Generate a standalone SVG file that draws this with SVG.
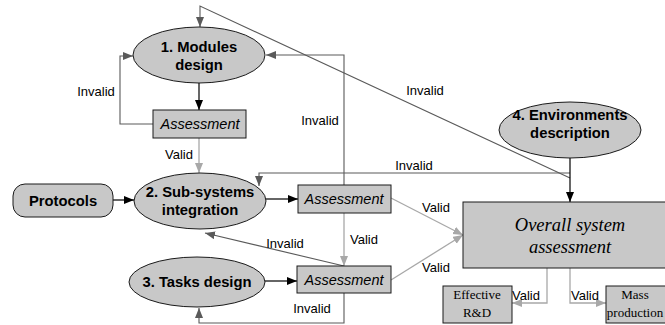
<svg xmlns="http://www.w3.org/2000/svg" width="665" height="325" viewBox="0 0 665 325">
<style>
.node{fill:#c8c8c8;stroke:#1a1a1a;stroke-width:1}
.nt{font-family:"Liberation Sans",Arial,sans-serif;font-weight:bold;font-size:14.8px;text-anchor:middle;fill:#000}
.at{font-family:"Liberation Sans",Arial,sans-serif;font-style:italic;font-size:14.5px;text-anchor:middle;fill:#000}
.st{font-family:"Liberation Serif","Times New Roman",serif;text-anchor:middle;fill:#000}
.lb{font-family:"Liberation Sans",Arial,sans-serif;font-size:13px;text-anchor:middle;fill:#000}
.k{fill:none;stroke:#000;stroke-width:1.2}
.d{fill:none;stroke:#5a5a5a;stroke-width:1.1}
.v{fill:none;stroke:#a8a8a8;stroke-width:1.3}
</style>
<defs>
<marker id="mk" markerUnits="userSpaceOnUse" markerWidth="12" markerHeight="10" refX="10" refY="4" orient="auto"><path d="M0,0 L10,4 L0,8 Z" fill="#000"/></marker>
<marker id="md" markerUnits="userSpaceOnUse" markerWidth="12" markerHeight="10" refX="10" refY="4" orient="auto"><path d="M0,0 L10,4 L0,8 Z" fill="#5a5a5a"/></marker>
<marker id="mv" markerUnits="userSpaceOnUse" markerWidth="12" markerHeight="10" refX="10" refY="4" orient="auto"><path d="M0,0 L10,4 L0,8 Z" fill="#a8a8a8"/></marker>
</defs>

<g id="connectors">
<path class="d" d="M570,178 L200,6 L200,27" marker-end="url(#md)"/>
<path class="d" d="M344,185 L344,55 L266,55" marker-end="url(#md)"/>
<path class="k" d="M199,83 L199,110" marker-end="url(#mk)"/>
<path class="d" d="M153,124 L120,124 L120,56 L133,56" marker-end="url(#md)"/>
<path class="v" d="M199,138 L199,173" marker-end="url(#mv)"/>
<path class="k" d="M113,200 L134,200" marker-end="url(#mk)"/>
<path class="k" d="M266,199 L298,199" marker-end="url(#mk)"/>
<path class="d" d="M570,173 L259,173 L259,186" marker-end="url(#md)"/>
<path class="k" d="M570,158 L570,202" marker-end="url(#mk)"/>
<path class="v" d="M391,198 L463,235" marker-end="url(#mv)"/>
<path class="v" d="M391,280 L463,235" marker-end="url(#mv)"/>
<path class="v" d="M344,213 L344,266" marker-end="url(#mv)"/>
<path class="d" d="M344,266 L205,233" marker-end="url(#md)"/>
<path class="d" d="M344,293 L344,323 L199,323 L199,308" marker-end="url(#md)"/>
<path class="k" d="M265,281 L297,281" marker-end="url(#mk)"/>
<path class="v" d="M547,268 L547,303 L512,303" marker-end="url(#mv)"/>
<path class="v" d="M570,268 L570,303 L606,303" marker-end="url(#mv)"/>
<text class="lb" x="96" y="96">Invalid</text>
<text class="lb" x="179" y="159">Valid</text>
<text class="lb" x="320" y="125">Invalid</text>
<text class="lb" x="425" y="95">Invalid</text>
<text class="lb" x="414" y="170">Invalid</text>
<text class="lb" x="436" y="212">Valid</text>
<text class="lb" x="364" y="244">Valid</text>
<text class="lb" x="285" y="248">Invalid</text>
<text class="lb" x="436" y="272">Valid</text>
<text class="lb" x="312" y="313">Invalid</text>
<text class="lb" x="526" y="300">Valid</text>
<text class="lb" x="585" y="300">Valid</text>
</g>

<g id="modules">
<ellipse class="node" cx="199" cy="55" rx="66" ry="28"/>
<text class="nt" x="199" y="52">1. Modules</text>
<text class="nt" x="199" y="70">design</text>
</g>
<g id="assess1">
<rect class="node" x="153" y="110" width="93" height="28"/>
<text class="at" x="200" y="129">Assessment</text>
</g>
<g id="protocols">
<rect class="node" x="13" y="184" width="100" height="33" rx="12"/>
<text class="nt" x="63" y="206">Protocols</text>
</g>
<g id="subsystems">
<ellipse class="node" cx="200" cy="201" rx="66" ry="28"/>
<text class="nt" x="200" y="197">2. Sub-systems</text>
<text class="nt" x="200" y="215">integration</text>
</g>
<g id="assess2">
<rect class="node" x="298" y="185" width="93" height="28"/>
<text class="at" x="344" y="204">Assessment</text>
</g>
<g id="tasks">
<ellipse class="node" cx="197" cy="282" rx="68" ry="25"/>
<text class="nt" x="197" y="287">3. Tasks design</text>
</g>
<g id="assess3">
<rect class="node" x="297" y="266" width="94" height="27"/>
<text class="at" x="344" y="285">Assessment</text>
</g>
<g id="environments">
<ellipse class="node" cx="570" cy="130" rx="71" ry="28"/>
<text class="nt" x="570" y="120">4. Environments</text>
<text class="nt" x="570" y="138">description</text>
</g>
<g id="overall">
<rect class="node" x="463" y="202" width="214" height="66"/>
<text class="st" x="570" y="231" font-size="18.5" font-style="italic">Overall system</text>
<text class="st" x="570" y="253" font-size="18.5" font-style="italic">assessment</text>
</g>
<g id="effective">
<rect class="node" x="443" y="286" width="69" height="37"/>
<text class="st" x="477" y="299" font-size="13">Effective</text>
<text class="st" x="477" y="317" font-size="13">R&amp;D</text>
</g>
<g id="mass">
<rect class="node" x="606" y="286" width="69" height="37"/>
<text class="st" x="635" y="299" font-size="13">Mass</text>
<text class="st" x="635" y="317" font-size="13">production</text>
</g>
</svg>
